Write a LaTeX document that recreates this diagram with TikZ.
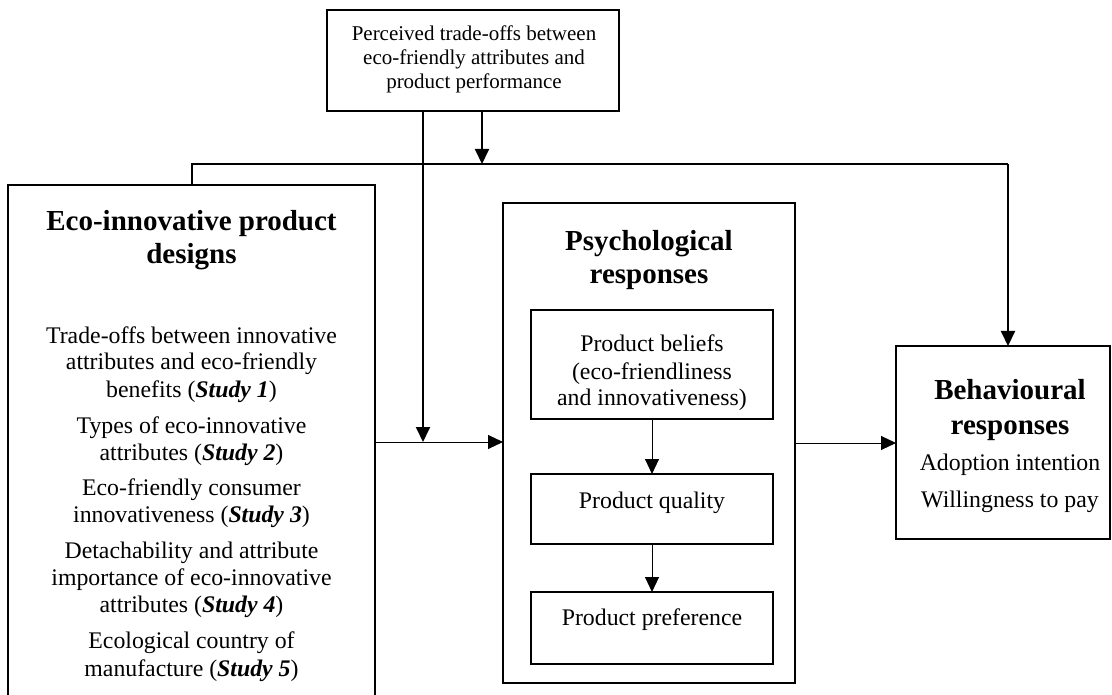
\documentclass[tikz,border=0pt]{standalone}
\usepackage{fontspec}
\setmainfont{Liberation Serif}
\usetikzlibrary{arrows.meta}
\tikzset{
  box/.style={draw, line width=2pt, inner sep=0pt, outer sep=0pt},
  ttl/.style={font=\fontsize{29}{33}\selectfont\bfseries, anchor=base, inner sep=0pt},
  bd/.style={font=\fontsize{23.8}{27}\selectfont, anchor=base, inner sep=0pt},
  sm/.style={font=\fontsize{21}{24}\selectfont, anchor=base, inner sep=0pt},
  heavy/.style={line width=2pt},
  light/.style={line width=1pt},
  tip/.style={-{Triangle[length=15pt,width=14pt]}}
}
\newcommand{\stdy}[1]{(\textbf{\textit{Study #1}})}
\begin{document}
\begin{tikzpicture}[x=1pt,y=-1pt]
\useasboundingbox (0,0) rectangle (1112,695);
\clip (0,0) rectangle (1112,695);

% boxes
\node[box, minimum width=292pt, minimum height=101pt] (top) at (473,60.5) {};
\node[box, minimum width=367pt, minimum height=535pt] (design) at (191.5,452.5) {};
\node[box, minimum width=292pt, minimum height=480pt] (psych) at (649,443) {};
\node[box, minimum width=242pt, minimum height=109pt] (belief) at (652,364.5) {};
\node[box, minimum width=242pt, minimum height=70pt] (quality) at (652,509) {};
\node[box, minimum width=242pt, minimum height=72pt] (pref) at (652,628) {};
\node[box, minimum width=214pt, minimum height=193pt] (behav) at (1003,442.5) {};

% moderator box text
\node[sm] (tp1) at (474,41) {Perceived trade-offs between};
\node[sm] (tp2) at (474,65) {eco-friendly attributes and};
\node[sm] (tp3) at (474,89) {product performance};

% product design text
\node[ttl] (d1) at (191.5,231) {Eco-innovative product};
\node[ttl] (d2) at (191.5,264) {designs};
\node[bd] (s1a) at (191.5,343) {Trade-offs between innovative};
\node[bd] (s1b) at (191.5,370) {attributes and eco-friendly};
\node[bd] (s1c) at (191.5,397) {benefits \stdy{1}};
\node[bd] (s2a) at (191.5,433) {Types of eco-innovative};
\node[bd] (s2b) at (191.5,460) {attributes \stdy{2}};
\node[bd] (s3a) at (191.5,495) {Eco-friendly consumer};
\node[bd] (s3b) at (191.5,522) {innovativeness \stdy{3}};
\node[bd] (s4a) at (191.5,558) {Detachability and attribute};
\node[bd] (s4b) at (191.5,585) {importance of eco-innovative};
\node[bd] (s4c) at (191.5,612) {attributes \stdy{4}};
\node[bd] (s5a) at (191.5,648) {Ecological country of};
\node[bd] (s5b) at (191.5,676) {manufacture \stdy{5}};

% psychological responses text
\node[ttl] (p1) at (649,251) {Psychological};
\node[ttl] (p2) at (649,284) {responses};
\node[bd] (b1) at (652,352) {Product beliefs};
\node[bd] (b2) at (652,379) {(eco-friendliness};
\node[bd] (b3) at (652,405) {and innovativeness)};
\node[bd] (q1) at (652,508) {Product quality};
\node[bd] (r1) at (652,625) {Product preference};

% behavioural responses text
\node[ttl] (h1) at (1010,399) {Behavioural};
\node[ttl] (h2) at (1010,434) {responses};
\node[bd] (h3) at (1010,470) {Adoption intention};
\node[bd] (h4) at (1010,507) {Willingness to pay};

% junction points of the moderating paths
\coordinate (jdown) at (423,442);
\coordinate (jtop) at (482,164);
\coordinate (corner) at (1008,164);

% connectors
\draw[heavy] (design.north -| 192,0) |- (corner);
\draw[heavy, tip] (corner) -- (behav.north -| corner);
\draw[heavy, tip] (top.south -| jtop) -- (jtop);
\draw[heavy, tip] (top.south -| jdown) -- (jdown);
\draw[light, tip] (design.east |- jdown) -- (psych.west |- jdown);
\draw[light, tip] (psych.east |- 0,443) -- (behav.west |- 0,443);
\draw[light, tip] (belief.south) -- (quality.north);
\draw[light, tip] (quality.south) -- (pref.north);
\end{tikzpicture}
\end{document}
